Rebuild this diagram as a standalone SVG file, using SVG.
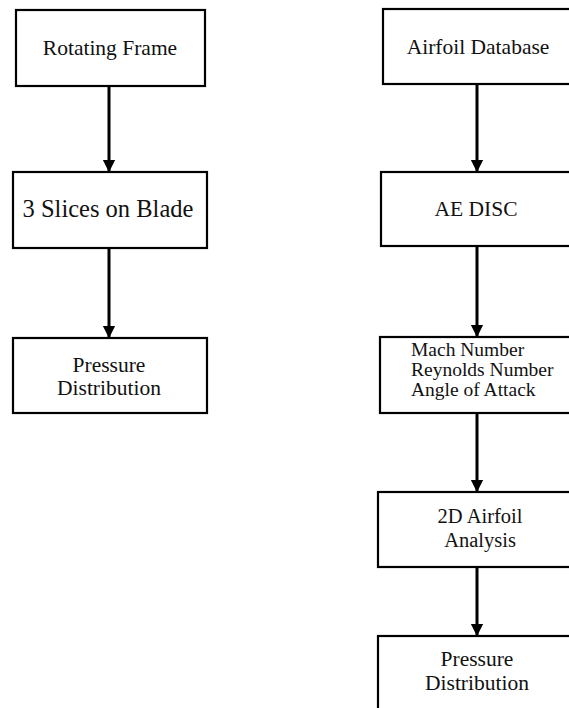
<svg xmlns="http://www.w3.org/2000/svg" width="569" height="708" viewBox="0 0 569 708">
  <style>
    .box { fill: #ffffff; stroke: #000000; stroke-width: 2.2; }
    .t { font-family: 'Liberation Serif', Tinos, 'Times New Roman', 'DejaVu Serif', serif; fill: #111111; font-size: 21.5px; text-anchor: middle; }
    .tl { font-family: 'Liberation Serif', Tinos, 'Times New Roman', 'DejaVu Serif', serif; fill: #111111; font-size: 19.5px; }
    .edge { stroke: #000000; stroke-width: 3; fill: none; marker-end: url(#arrow); }
  </style>
  <defs>
    <marker id="arrow" viewBox="0 0 10 10" refX="9" refY="5" markerWidth="4.2" markerHeight="4.6" markerUnits="strokeWidth" orient="auto">
      <path d="M0,0 L10,5 L0,10 Z" fill="#000000"/>
    </marker>
  </defs>
  <rect width="569" height="708" fill="#ffffff"/>

  <g id="connectors">
    <line class="edge" x1="109" y1="86" x2="109" y2="171"/>
    <line class="edge" x1="109" y1="249" x2="109" y2="337"/>
    <line class="edge" x1="477" y1="84" x2="477" y2="171"/>
    <line class="edge" x1="477" y1="246" x2="477" y2="336"/>
    <line class="edge" x1="477" y1="413" x2="477" y2="491"/>
    <line class="edge" x1="477" y1="567" x2="477" y2="635"/>
  </g>

  <g id="rotating-frame">
    <rect class="box" x="16" y="10" width="189" height="76"/>
    <text class="t" x="110" y="55">Rotating Frame</text>
  </g>
  <g id="slices-on-blade">
    <rect class="box" x="13" y="172" width="194" height="76"/>
    <text class="t" x="108" y="217" style="font-size:24.5px">3 Slices on Blade</text>
  </g>
  <g id="pressure-left">
    <rect class="box" x="13" y="338" width="194" height="75"/>
    <text class="t" x="109" y="372">Pressure</text>
    <text class="t" x="109" y="395">Distribution</text>
  </g>

  <g id="airfoil-database">
    <rect class="box" x="383" y="9" width="192" height="75"/>
    <text class="t" x="478" y="54">Airfoil Database</text>
  </g>
  <g id="ae-disc">
    <rect class="box" x="381" y="172" width="194" height="74"/>
    <text class="t" x="476" y="216">AE DISC</text>
  </g>
  <g id="flow-parameters">
    <rect class="box" x="380" y="337" width="195" height="76"/>
    <text class="tl" x="411" y="356">Mach Number</text>
    <text class="tl" x="411" y="376">Reynolds Number</text>
    <text class="tl" x="411" y="396">Angle of Attack</text>
  </g>
  <g id="airfoil-analysis">
    <rect class="box" x="378" y="492" width="197" height="75"/>
    <text class="t" x="480" y="523" style="font-size:20.5px">2D Airfoil</text>
    <text class="t" x="480" y="547" style="font-size:20.5px">Analysis</text>
  </g>
  <g id="pressure-right">
    <rect class="box" x="378" y="636" width="197" height="80"/>
    <text class="t" x="477" y="666">Pressure</text>
    <text class="t" x="477" y="690">Distribution</text>
  </g>
</svg>
